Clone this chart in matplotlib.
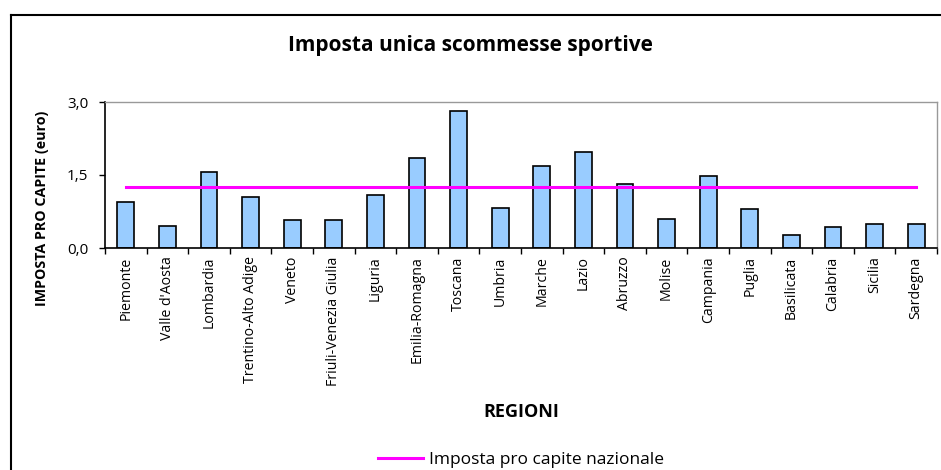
import matplotlib
matplotlib.use("Agg")
import matplotlib.pyplot as plt
from matplotlib.lines import Line2D
import numpy as np

regions = ["Piemonte", "Valle d'Aosta", "Lombardia", "Trentino-Alto Adige", "Veneto",
           "Friuli-Venezia Giulia", "Liguria", "Emilia-Romagna", "Toscana", "Umbria",
           "Marche", "Lazio", "Abruzzo", "Molise", "Campania", "Puglia", "Basilicata",
           "Calabria", "Sicilia", "Sardegna"]
values = [0.94, 0.46, 1.57, 1.05, 0.57, 0.57, 1.08, 1.85, 2.81, 0.83,
          1.68, 1.98, 1.31, 0.60, 1.48, 0.80, 0.26, 0.43, 0.49, 0.49]
national = 1.25
yticks = [0.0, 1.5, 3.0]
ytick_labels = ["0,0", "1,5", "3,0"]

plt.rcParams['font.family'] = ['Open Sans', 'DejaVu Sans']

W, H = 941, 470
fig = plt.figure(figsize=(W / 100, H / 100), dpi=100)
ax = fig.add_axes([105 / W, 1 - 248 / H, (937 - 105) / W, (248 - 102) / H])

x = np.arange(len(regions))
ax.bar(x, values, width=0.4, color="#99CCFF", edgecolor="black", linewidth=1.2, zorder=2)
ax.plot([x[0], x[-1]], [national, national], color="#FF00FF", linewidth=2.2, zorder=3)

ax.set_xlim(-0.5, len(regions) - 0.5)
ax.set_ylim(0, 3.0)
ax.set_yticks(yticks)
ax.set_yticklabels(ytick_labels, fontsize=11)
ax.set_xticks(x)
ax.set_xticklabels(regions, rotation=90, fontsize=10.2)
ax.tick_params(axis='x', which='major', length=0, pad=6)
ax.set_xticks(np.arange(-0.5, len(regions)), minor=True)
ax.tick_params(axis='x', which='minor', length=4, width=1, direction='out', color='black')
ax.tick_params(axis='y', length=4, width=1, direction='out', pad=8)

for s in ['left', 'bottom']:
    ax.spines[s].set_color('black')
    ax.spines[s].set_linewidth(1.2)
for s in ['top', 'right']:
    ax.spines[s].set_color('#999999')
    ax.spines[s].set_linewidth(1.0)

fig.text(470 / W, 1 - 46 / H, "Imposta unica scommesse sportive", ha='center', va='center',
         fontsize=15, fontweight='bold')
fig.text(42 / W, 1 - 208 / H, "IMPOSTA PRO CAPITE (euro)", ha='center', va='center',
         rotation=90, fontsize=10.3, fontweight='bold')
fig.text(521 / W, 1 - 412 / H, "REGIONI", ha='center', va='center',
         fontsize=13, fontweight='bold')

handle = Line2D([], [], color="#FF00FF", linewidth=2.2)
fig.legend([handle], ["Imposta pro capite nazionale"], loc='center',
           bbox_to_anchor=(521 / W, 1 - 460 / H), frameon=False, fontsize=12.5,
           handlelength=2.6, handletextpad=0.3, borderpad=0)

# figure border (top and left)
fig.add_artist(Line2D([11 / W, 1], [1 - 15 / H, 1 - 15 / H], color='black', linewidth=1.5,
                      transform=fig.transFigure))
fig.add_artist(Line2D([11 / W, 11 / W], [0, 1 - 15 / H], color='black', linewidth=1.5,
                      transform=fig.transFigure))

fig.savefig("out.png", dpi=100)
